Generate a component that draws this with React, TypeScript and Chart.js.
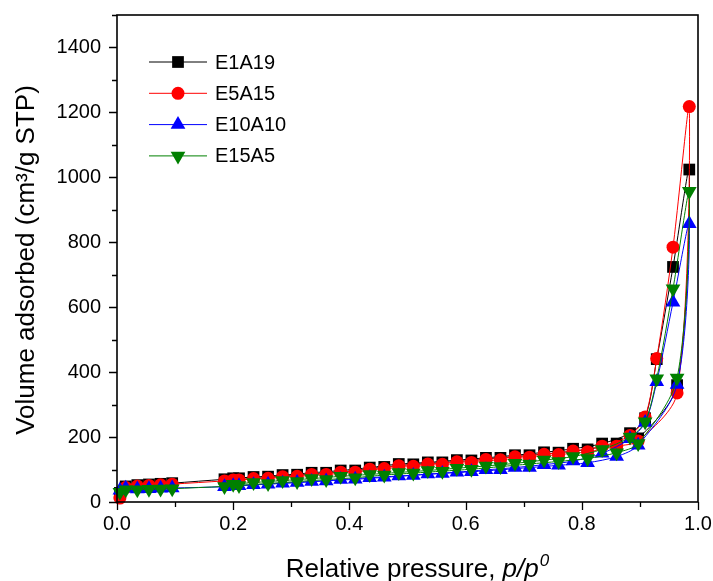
import React, { useEffect, useRef } from 'react';
import { Chart, registerables } from 'chart.js';

Chart.register(...registerables);

// ---- Data ----
const seriesNames = ['E1A19', 'E5A15', 'E10A10', 'E15A5'];
const seriesColors = ['#000000', '#ff0000', '#0000ff', '#008000'];

// relative pressure points (adsorption branch, then desorption branch)
const adsorptionP = [0.005, 0.015, 0.035, 0.055, 0.075, 0.095, 0.185, 0.21, 0.26, 0.31, 0.36, 0.41, 0.46, 0.51, 0.56, 0.61, 0.66, 0.71, 0.76, 0.81, 0.86, 0.897, 0.964, 0.985];
const desorptionP = [0.957, 0.929, 0.909, 0.883, 0.835, 0.785, 0.735, 0.685, 0.635, 0.585, 0.535, 0.485, 0.435, 0.385, 0.335, 0.285, 0.235, 0.2];

const e1a19Ads = [28, 48, 52, 54, 56, 58, 70, 73, 78, 84, 90, 97, 108, 116, 122, 128, 136, 144, 152, 162, 180, 196, 360, 1024];
const e1a19Des = [724, 440, 258, 212, 180, 164, 153, 144, 136, 129, 122, 117, 106, 97, 90, 83, 77, 73];

const e5a15Ads = [12, 45, 49, 51, 53, 55, 65, 68, 73, 79, 85, 92, 103, 110, 116, 122, 130, 138, 146, 155, 172, 188, 336, 1218];
const e5a15Des = [785, 442, 262, 205, 172, 157, 147, 139, 131, 124, 117, 112, 101, 92, 85, 78, 72, 68];

const e10a10Ads = [36, 42, 40, 41, 42, 43, 47, 50, 55, 60, 65, 70, 76, 82, 88, 93, 99, 106, 113, 121, 140, 175, 362, 857];
const e10a10Des = [615, 370, 245, 195, 150, 126, 115, 106, 99, 92, 86, 80, 75, 69, 63, 58, 53, 50];

const e15a5Ads = [30, 38, 38, 39, 40, 41, 48, 51, 57, 63, 69, 75, 83, 89, 95, 101, 109, 117, 125, 134, 152, 180, 382, 957];
const e15a5Des = [657, 380, 247, 200, 162, 140, 129, 119, 111, 104, 97, 91, 85, 79, 72, 66, 60, 55];

const xMajorTicks = [0, 0.2, 0.4, 0.6, 0.8, 1.0];
const xMinorTicks = [0.1, 0.3, 0.5, 0.7, 0.9];
const yMajorTicks = [0, 200, 400, 600, 800, 1000, 1200, 1400];
const yMinorTicks = [100, 300, 500, 700, 900, 1100, 1300, 1500];

const xTitle = 'Relative pressure, ';
const xTitleItalic = 'p/p';
const xTitleSup = '0';
const yTitle = 'Volume adsorbed (cm\u00B3/g STP)';

const FONT = '"Liberation Sans", Arial, sans-serif';

type Marker = 'rect' | 'circle' | 'triangle' | 'triangleDown';
const markers: Marker[] = ['rect', 'circle', 'triangle', 'triangleDown'];
const markerRadius = [8.3, 6.5, 8.5, 8.5];

function toPoints(ads: number[], des: number[]) {
  return [
    ...adsorptionP.map((p, i) => ({ x: p, y: ads[i] })),
    ...desorptionP.map((p, i) => ({ x: p, y: des[i] })),
  ];
}

function drawMarker(ctx: CanvasRenderingContext2D, m: Marker, x: number, y: number, r: number, color: string) {
  ctx.save();
  ctx.fillStyle = color;
  ctx.beginPath();
  if (m === 'rect') {
    const s = Math.SQRT1_2 * r;
    ctx.rect(x - s, y - s, 2 * s, 2 * s);
  } else if (m === 'circle') {
    ctx.arc(x, y, r, 0, Math.PI * 2);
  } else {
    const rot = m === 'triangle' ? 0 : Math.PI;
    for (let k = 0; k < 3; k++) {
      const a = rot + (k * 2 * Math.PI) / 3;
      const px = x + Math.sin(a) * r;
      const py = y - Math.cos(a) * r;
      if (k === 0) ctx.moveTo(px, py);
      else ctx.lineTo(px, py);
    }
    ctx.closePath();
  }
  ctx.fill();
  ctx.restore();
}

const framePlugin = {
  id: 'framePlugin',
  afterDraw(chart: any) {
    const { ctx, chartArea: a, scales } = chart;
    const xs = scales.x;
    const ys = scales.y;
    ctx.save();
    ctx.strokeStyle = '#000';
    ctx.lineWidth = 1.6;
    ctx.strokeRect(a.left, a.top, a.right - a.left, a.bottom - a.top);
    ctx.lineWidth = 1.3;
    ctx.beginPath();
    for (const v of xMajorTicks) {
      const px = Math.round(xs.getPixelForValue(v)) + 0.5;
      ctx.moveTo(px, a.bottom);
      ctx.lineTo(px, a.bottom + 8);
    }
    for (const v of xMinorTicks) {
      const px = Math.round(xs.getPixelForValue(v)) + 0.5;
      ctx.moveTo(px, a.bottom);
      ctx.lineTo(px, a.bottom + 5);
    }
    for (const v of yMajorTicks) {
      const py = Math.round(ys.getPixelForValue(v)) + 0.5;
      ctx.moveTo(a.left, py);
      ctx.lineTo(a.left - 8, py);
    }
    for (const v of yMinorTicks) {
      const py = Math.round(ys.getPixelForValue(v)) + 0.5;
      ctx.moveTo(a.left, py);
      ctx.lineTo(a.left - 5, py);
    }
    ctx.stroke();

    // Legend
    const lx0 = a.left + 32;
    const lx1 = a.left + 90;
    const lmx = a.left + 61;
    const ltx = a.left + 98;
    const ly0 = a.top + 47;
    const lstep = 31.3;
    ctx.font = `20px ${FONT}`;
    ctx.textBaseline = 'middle';
    ctx.textAlign = 'left';
    seriesNames.forEach((name, i) => {
      const y = ly0 + i * lstep;
      ctx.strokeStyle = seriesColors[i];
      ctx.lineWidth = 1;
      ctx.beginPath();
      ctx.moveTo(lx0, y);
      ctx.lineTo(lx1, y);
      ctx.stroke();
      drawMarker(ctx, markers[i], lmx, y, markerRadius[i], seriesColors[i]);
      ctx.fillStyle = '#000';
      ctx.fillText(name, ltx, y + 1);
    });

    // X title with italic part and superscript
    ctx.fillStyle = '#000';
    ctx.textBaseline = 'alphabetic';
    const baseFont = `26px ${FONT}`;
    const itFont = `italic 26px ${FONT}`;
    const supFont = `italic 17px ${FONT}`;
    ctx.font = baseFont;
    const w1 = ctx.measureText(xTitle).width;
    ctx.font = itFont;
    const w2 = ctx.measureText(xTitleItalic).width;
    ctx.font = supFont;
    const w3 = ctx.measureText(xTitleSup).width;
    const total = w1 + w2 + w3;
    const cx = 417;
    let tx = cx - total / 2;
    const ty = 577;
    ctx.font = baseFont;
    ctx.fillText(xTitle, tx, ty);
    tx += w1;
    ctx.font = itFont;
    ctx.fillText(xTitleItalic, tx, ty);
    tx += w2;
    ctx.font = supFont;
    ctx.fillText(xTitleSup, tx + 1, ty - 11);

    // Y title
    ctx.save();
    ctx.translate(27, 260);
    ctx.rotate(-Math.PI / 2);
    ctx.font = baseFont;
    ctx.textAlign = 'center';
    ctx.textBaseline = 'middle';
    ctx.fillText(yTitle, 0, 0);
    ctx.restore();

    ctx.restore();
  },
};

export default function App() {
  const canvasRef = useRef<HTMLCanvasElement | null>(null);

  useEffect(() => {
    if (!canvasRef.current) return;
    const allAds = [e1a19Ads, e5a15Ads, e10a10Ads, e15a5Ads];
    const allDes = [e1a19Des, e5a15Des, e10a10Des, e15a5Des];
    const datasets = seriesNames.map((name, i) => ({
      label: name,
      data: toPoints(allAds[i], allDes[i]),
      borderColor: seriesColors[i],
      backgroundColor: seriesColors[i],
      borderWidth: 1,
      pointStyle: markers[i] === 'triangleDown' ? 'triangle' : markers[i],
      rotation: markers[i] === 'triangleDown' ? 180 : 0,
      pointRadius: markerRadius[i],
      pointBorderWidth: 0,
      pointBackgroundColor: seriesColors[i],
      tension: 0.3,
      order: 3 - i,
      clip: false as any,
    }));

    const zeroPad = (s: any) => {
      s.paddingTop = 0;
      s.paddingBottom = 0;
      s.paddingLeft = 0;
      s.paddingRight = 0;
    };

    const chart = new Chart(canvasRef.current, {
      type: 'line',
      data: { datasets: datasets as any },
      options: {
        animation: false,
        responsive: false,
        layout: { padding: { top: 15, right: 15, left: 0, bottom: 0 } },
        plugins: { legend: { display: false }, tooltip: { enabled: false } },
        scales: {
          x: {
            type: 'linear',
            min: 0,
            max: 1,
            grid: { display: false, drawTicks: false },
            border: { display: false },
            ticks: {
              color: '#000',
              font: { family: FONT, size: 20 },
              padding: 10,
              maxRotation: 0,
              callback: (v: any) => Number(v).toFixed(1),
            },
            afterBuildTicks: (s: any) => {
              s.ticks = xMajorTicks.map((v) => ({ value: v }));
            },
            afterFit: (s: any) => {
              s.height = 79;
              zeroPad(s);
            },
          },
          y: {
            type: 'linear',
            min: 0,
            max: 1500,
            grid: { display: false, drawTicks: false },
            border: { display: false },
            ticks: {
              color: '#000',
              font: { family: FONT, size: 20 },
              padding: 16,
              callback: (v: any) => String(v),
            },
            afterBuildTicks: (s: any) => {
              s.ticks = yMajorTicks.map((v) => ({ value: v }));
            },
            afterFit: (s: any) => {
              s.width = 117;
              zeroPad(s);
            },
          },
        },
      },
      plugins: [framePlugin],
    });
    return () => chart.destroy();
  }, []);

  return (
    <div style={{ position: 'fixed', left: 0, top: 0, width: 713, height: 581, background: '#fff' }}>
      <canvas ref={canvasRef} width={713} height={581} style={{ display: 'block' }} />
    </div>
  );
}
